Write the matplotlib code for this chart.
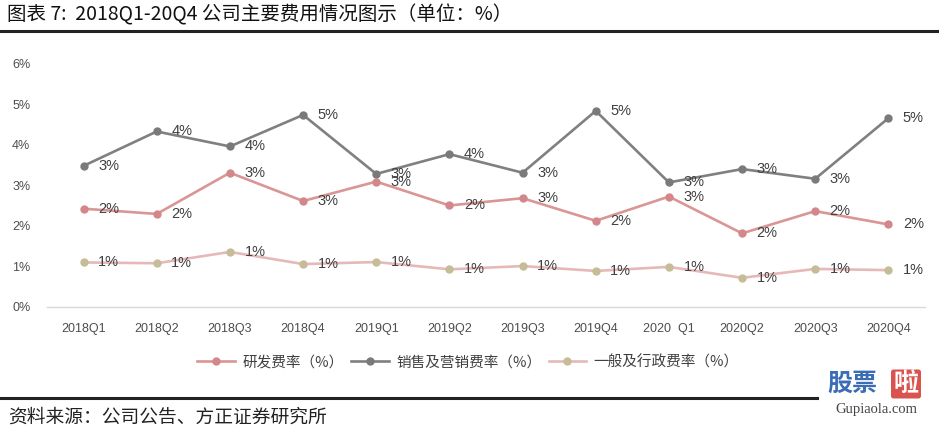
import numpy as np
import matplotlib
matplotlib.use("Agg")
import matplotlib.pyplot as plt

plt.rcParams['font.family'] = ['Liberation Sans', 'Noto Sans CJK SC', 'DejaVu Sans']

# --------- data --------------------------------------------------------------
quarters = ["2018Q1", "2018Q2", "2018Q3", "2018Q4", "2019Q1", "2019Q2",
            "2019Q3", "2019Q4", "2020  Q1", "2020Q2", "2020Q3", "2020Q4"]
rd_rate = [2.42, 2.29, 3.31, 2.61, 3.09, 2.50, 2.68, 2.12, 2.72, 1.81, 2.36, 2.03]
sales_rate = [3.48, 4.33, 3.96, 4.74, 3.28, 3.77, 3.31, 4.84, 3.07, 3.40, 3.16, 4.66]
admin_rate = [1.09, 1.07, 1.35, 1.05, 1.10, 0.92, 1.00, 0.88, 0.98, 0.71, 0.93, 0.90]
series_names = ["研发费率（%）", "销售及营销费率（%）", "一般及行政费率（%）"]
yticks = [0, 1, 2, 3, 4, 5, 6]

title = "图表 7:  2018Q1-20Q4 公司主要费用情况图示（单位：%）"
source = "资料来源：公司公告、方正证券研究所"

CJK = ['Noto Sans CJK SC', 'DejaVu Sans']

fig = plt.figure(figsize=(9.39, 4.34), dpi=100)
ax = fig.add_axes([47 / 939, 1 - 306.5 / 434, 878 / 939, 242.5 / 434])

x = np.arange(len(quarters))
styles = [
    (rd_rate, "#d99694", "#d4878b"),
    (sales_rate, "#808080", "#7a7a7a"),
    (admin_rate, "#e6b9b8", "#c4bd97"),
]
for (vals, lc, mc), name in zip(styles, series_names):
    ax.plot(x, vals, color=lc, lw=1.9, marker='o', ms=5,
            markerfacecolor=mc, markeredgecolor=mc, label=name, zorder=3)
    for xi, v in zip(x, vals):
        ax.annotate(f"{v:.0f}%", (xi, v), xytext=(18, 0), textcoords='offset points',
                    ha='center', va='center', fontsize=10.5, color='#404040', zorder=4)

ax.set_xlim(-0.5, len(quarters) - 0.5)
ax.set_ylim(0, 6)
ax.set_yticks(yticks)
ax.set_yticklabels([f"{t}%" for t in yticks])
ax.set_xticks(x)
ax.set_xticklabels(quarters)
ax.tick_params(length=0, labelsize=9, labelcolor='#4d4d4d')
ax.tick_params(axis='x', pad=12)
ax.tick_params(axis='y', pad=12)
for s in ['top', 'right', 'left']:
    ax.spines[s].set_visible(False)
ax.spines['bottom'].set_color('#d9d9d9')
ax.spines['bottom'].set_linewidth(1.0)
ax.patch.set_alpha(0)

leg = fig.legend(loc='center', bbox_to_anchor=(468 / 939, 1 - 362 / 434), ncol=3,
                 frameon=False, handlelength=2.6, handletextpad=0.5,
                 columnspacing=0.5, prop={'family': CJK, 'size': 10.5})
for t in leg.get_texts():
    t.set_color('#404040')

# title and rules
fig.text(7 / 939, 1 - 15 / 434, title, fontsize=14, family=CJK, va='center', ha='left',
         color='#111111')
fig.add_artist(plt.Line2D([0, 1], [1 - 30.5 / 434] * 2, color='#222222', lw=2.2))
fig.add_artist(plt.Line2D([0, 817 / 939], [1 - 398 / 434] * 2, color='#222222', lw=2.2))
fig.text(8 / 939, 1 - 417 / 434, source, fontsize=13.5, family=CJK, va='center', ha='left',
         color='#222222')

# watermark
fig.text(852 / 939, 1 - 384 / 434, "股票", fontsize=18, family=CJK, weight='bold',
         color='#3a6db5', ha='center', va='center')
fig.text(906 / 939, 1 - 384 / 434, "啦", fontsize=18, family=CJK, weight='bold',
         color='white', ha='center', va='center',
         bbox=dict(boxstyle='round,pad=0.1', fc='#d9534f', ec='none'))
fig.text(876 / 939, 1 - 409 / 434, "Gupiaola.com", fontsize=10.5, family='Liberation Serif',
         color='#444444', ha='center', va='center')

fig.savefig("out.png", dpi=100)
